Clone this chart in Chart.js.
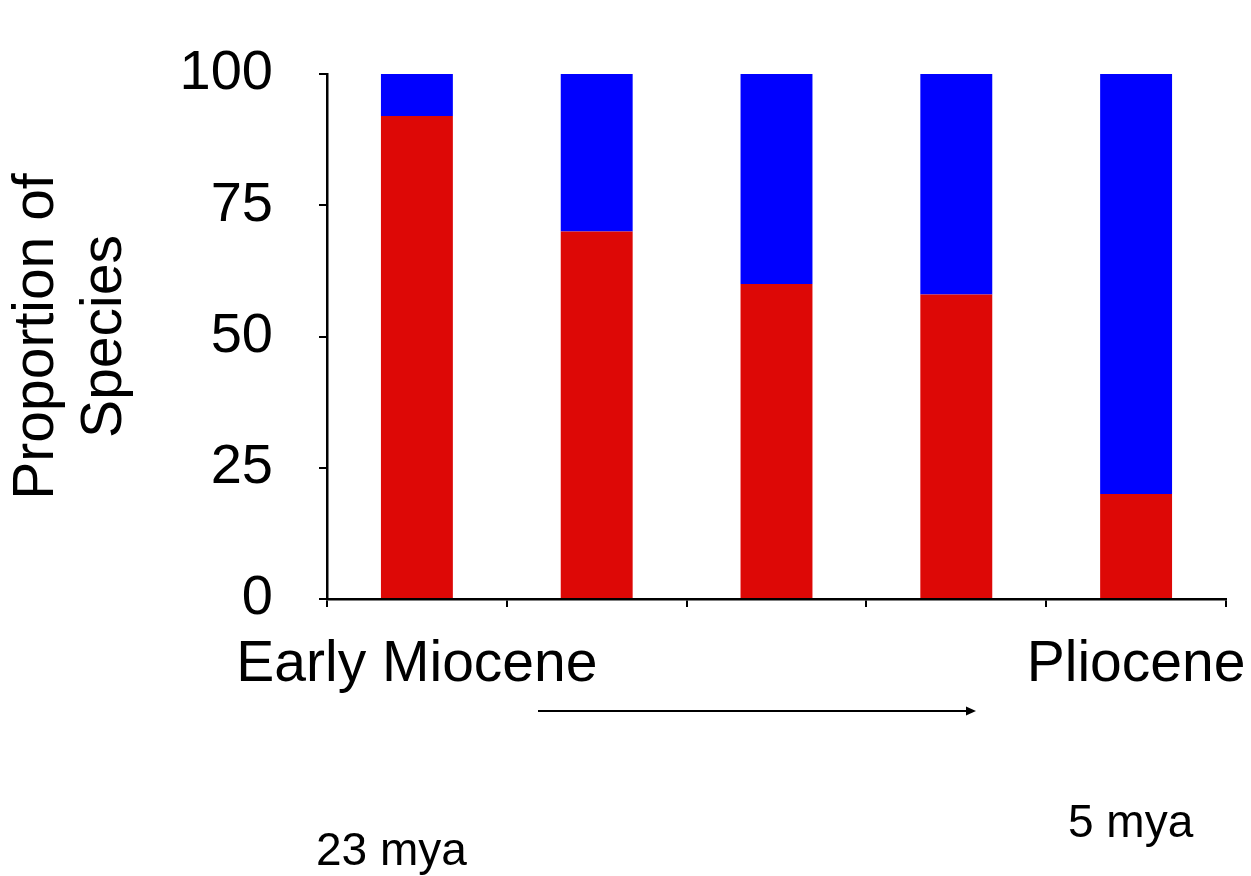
<!DOCTYPE html>
<html>
<head>
<meta charset="utf-8">
<script src="https://cdn.jsdelivr.net/npm/chart.js@4"></script>
<style>
	html, body { margin: 0; padding: 0; background: #fff; }
	#wrap { width: 1251px; height: 876px; }
</style>
</head>
<body>
<div id="wrap"><canvas id="data" width="1251" height="876"></canvas></div>
<script>
const categories = ["Early Miocene", "", "", "", "Pliocene"];
const redValues = [92, 70, 60, 58, 20];
const blueValues = [8, 30, 40, 42, 80];
const yTicks = [0, 25, 50, 75, 100];
const yTitle = ["Proportion of", "Species"];
const startLabel = "23 mya";
const endLabel = "5 mya";

const FONT = "'Liberation Sans', Arial, sans-serif";

// timeline arrow and dates under the axis
const timeline = {
	id: "timeline",
	afterDraw(chart) {
		const ctx = chart.ctx;
		ctx.save();
		ctx.strokeStyle = "#000";
		ctx.fillStyle = "#000";
		ctx.lineWidth = 2;
		ctx.beginPath();
		ctx.moveTo(538, 711);
		ctx.lineTo(967, 711);
		ctx.stroke();
		ctx.beginPath();
		ctx.moveTo(976, 711);
		ctx.lineTo(966, 706.5);
		ctx.lineTo(966, 715.5);
		ctx.closePath();
		ctx.fill();

		ctx.font = "46px " + FONT;
		ctx.textBaseline = "alphabetic";
		ctx.textAlign = "left";
		ctx.fillText(startLabel, 316, 865);
		ctx.fillText(endLabel, 1068, 837);
		ctx.restore();
	}
};

const options = {
	responsive: false,
	animation: false,
	layout: {
		padding: { top: 74, right: 25, left: 0, bottom: 0 }
	},
	scales: {
		x: {
			stacked: true,
			offset: true,
			grid: {
				offset: true,
				drawOnChartArea: false,
				drawTicks: true,
				tickLength: 8,
				color: "#000",
				lineWidth: 2
			},
			border: { display: true, color: "#000", width: 2.5 },
			ticks: {
				autoSkip: false,
				maxRotation: 0,
				minRotation: 0,
				padding: 24,
				color: "#000",
				font: { family: FONT, size: 57 }
			},
			afterFit(scale) {
				scale.height = 277;
				scale.paddingLeft = 0;
				scale.paddingRight = 0;
			}
		},
		y: {
			stacked: true,
			min: 0,
			max: 100,
			afterBuildTicks(scale) {
				scale.ticks = yTicks.map((v) => ({ value: v }));
			},
			grid: {
				drawOnChartArea: false,
				drawTicks: true,
				tickLength: 8,
				color: "#000",
				lineWidth: 2
			},
			border: { display: true, color: "#000", width: 2.5 },
			ticks: {
				padding: 46,
				color: "#000",
				font: { family: FONT, size: 56 }
			},
			title: {
				display: true,
				text: yTitle,
				color: "#000",
				padding: { top: 3, bottom: 0 },
				font: { family: FONT, size: 57, lineHeight: 1.2 }
			},
			afterFit(scale) {
				scale.width = 327;
				scale.paddingTop = 0;
				scale.paddingBottom = 0;
			}
		}
	},
	plugins: {
		tooltip: { enabled: false },
		legend: { display: false }
	}
};

const ctx = document.getElementById("data");

new Chart(ctx, {
	type: "bar",
	options: options,
	plugins: [timeline],
	data: {
		labels: categories,
		datasets: [
			{
				data: redValues,
				backgroundColor: "#DD0806",
				borderWidth: 0,
				categoryPercentage: 1,
				barPercentage: 0.4
			},
			{
				data: blueValues,
				backgroundColor: "#0000FF",
				borderWidth: 0,
				categoryPercentage: 1,
				barPercentage: 0.4
			}
		]
	}
});
</script>
</body>
</html>
